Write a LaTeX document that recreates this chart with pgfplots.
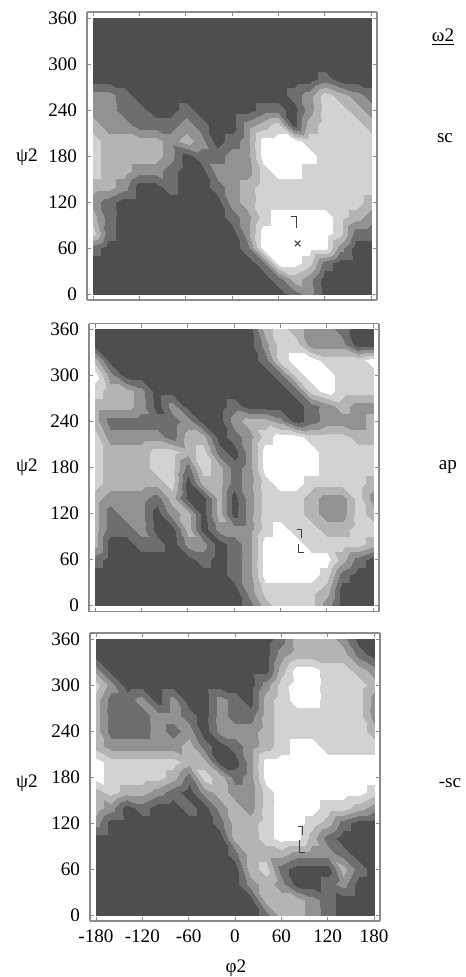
\documentclass[border=0pt]{standalone}
\usepackage{fontspec}
\setmainfont{Liberation Serif}
\usepackage{pgfplots}
\usepackage{pgfplotstable}
\pgfplotsset{compat=1.18}
\definecolor{g0}{HTML}{4E4E4E}
\definecolor{g1}{HTML}{6E6E6E}
\definecolor{g2}{HTML}{929292}
\definecolor{g3}{HTML}{B4B4B4}
\definecolor{g4}{HTML}{D2D2D2}
\definecolor{g5}{HTML}{FFFFFF}
\definecolor{frm}{HTML}{8A8A8A}

% grid values: rows psi = 360,340,...,0 ; columns phi = -180,-160,...,180
% level 0 = darkest ... 5 = white
\pgfplotstableread[row sep=\\,header=false]{
0\\0\\0\\0\\0\\0\\0\\0\\0\\0\\0\\0\\0\\0\\0\\0\\0\\0\\0\\
0\\0\\0\\0\\0\\0\\0\\0\\0\\0\\0\\0\\0\\0\\0\\0\\0\\0\\0\\
0\\0\\0\\0\\0\\0\\0\\0\\0\\0\\0\\0\\0\\0\\0\\0\\0\\0\\0\\
0\\0\\0\\0\\0\\0\\0\\0\\0\\0\\0\\0\\0\\0\\0\\0\\0\\0\\0\\
0\\0\\0\\0\\0\\0\\0\\0\\0\\0\\0\\0\\0\\0\\0\\1\\0\\0\\0\\
2\\2\\1\\0\\0\\0\\0\\0\\0\\0\\0\\0\\0\\1\\2\\4\\3\\2\\1\\
2\\2\\1\\1\\0\\0\\1\\0\\0\\0\\0\\1\\1\\0\\2\\4\\4\\3\\2\\
3\\2\\2\\1\\1\\1\\2\\1\\0\\0\\2\\3\\4\\0\\3\\4\\4\\4\\3\\
4\\3\\3\\3\\3\\2\\3\\2\\0\\1\\2\\5\\5\\5\\4\\4\\4\\4\\4\\
4\\3\\3\\3\\3\\2\\0\\1\\1\\2\\2\\5\\5\\5\\5\\4\\4\\4\\4\\
4\\3\\3\\2\\2\\1\\0\\0\\2\\2\\2\\4\\5\\5\\4\\4\\4\\4\\4\\
3\\3\\2\\0\\0\\1\\0\\0\\1\\2\\3\\4\\4\\4\\4\\4\\4\\4\\4\\
2\\1\\0\\0\\0\\0\\0\\0\\0\\2\\3\\4\\4\\4\\4\\4\\4\\4\\3\\
3\\1\\0\\0\\0\\0\\0\\0\\0\\1\\2\\4\\5\\5\\5\\5\\4\\3\\2\\
4\\1\\0\\0\\0\\0\\0\\0\\0\\0\\2\\5\\5\\5\\5\\5\\4\\1\\1\\
1\\0\\0\\0\\0\\0\\0\\0\\0\\0\\1\\5\\5\\5\\5\\5\\2\\0\\0\\
0\\0\\0\\0\\0\\0\\0\\0\\0\\0\\0\\1\\5\\5\\4\\1\\0\\0\\0\\
0\\0\\0\\0\\0\\0\\0\\0\\0\\0\\0\\0\\1\\3\\2\\0\\0\\0\\0\\
0\\0\\0\\0\\0\\0\\0\\0\\0\\0\\0\\0\\0\\1\\2\\0\\0\\0\\0\\
}\Pone

\pgfplotstableread[row sep=\\,header=false]{
0\\0\\0\\0\\0\\0\\0\\0\\0\\0\\0\\3\\4\\3\\2\\2\\1\\0\\0\\
0\\0\\0\\0\\0\\0\\0\\0\\0\\0\\0\\2\\4\\4\\2\\2\\2\\0\\0\\
3\\0\\0\\0\\0\\0\\0\\0\\0\\0\\0\\1\\4\\5\\5\\4\\4\\4\\5\\
5\\2\\0\\0\\0\\0\\0\\0\\0\\0\\0\\0\\1\\4\\5\\5\\4\\4\\4\\
4\\3\\3\\2\\0\\0\\0\\0\\0\\0\\0\\0\\0\\1\\4\\5\\4\\4\\4\\
3\\3\\3\\2\\0\\2\\0\\0\\0\\1\\0\\0\\0\\0\\1\\2\\3\\2\\2\\
3\\1\\1\\1\\1\\1\\2\\0\\0\\2\\3\\3\\2\\0\\1\\2\\2\\2\\3\\
4\\2\\2\\2\\2\\1\\3\\3\\0\\1\\2\\4\\5\\5\\4\\4\\4\\3\\3\\
4\\3\\3\\3\\4\\4\\3\\4\\1\\0\\2\\5\\5\\5\\5\\4\\4\\4\\4\\
4\\3\\3\\3\\4\\4\\1\\4\\3\\1\\2\\5\\5\\5\\5\\4\\4\\4\\4\\
4\\3\\3\\3\\3\\4\\0\\3\\3\\1\\2\\4\\5\\5\\4\\4\\4\\4\\3\\
3\\2\\2\\2\\1\\3\\0\\0\\3\\0\\2\\4\\4\\4\\3\\2\\2\\4\\2\\
3\\1\\2\\2\\0\\2\\3\\0\\3\\0\\2\\4\\4\\4\\3\\2\\2\\4\\3\\
3\\1\\1\\2\\0\\0\\3\\0\\2\\2\\2\\4\\5\\4\\4\\3\\3\\4\\4\\
3\\0\\0\\1\\1\\0\\2\\2\\0\\1\\2\\5\\5\\5\\4\\4\\4\\4\\3\\
1\\0\\0\\0\\0\\0\\0\\1\\0\\1\\2\\5\\5\\5\\5\\5\\3\\1\\0\\
0\\0\\0\\0\\0\\0\\0\\0\\0\\1\\2\\5\\5\\5\\5\\4\\1\\0\\0\\
0\\0\\0\\0\\0\\0\\0\\0\\0\\0\\2\\4\\4\\4\\4\\3\\0\\0\\0\\
0\\0\\0\\0\\0\\0\\0\\0\\0\\0\\1\\3\\4\\4\\4\\2\\0\\0\\0\\
}\Ptwo

\pgfplotstableread[row sep=\\,header=false]{
0\\0\\0\\0\\0\\0\\0\\0\\0\\0\\0\\0\\1\\3\\3\\3\\2\\0\\0\\
0\\0\\0\\0\\0\\0\\0\\0\\0\\0\\0\\0\\2\\3\\3\\3\\3\\1\\0\\
2\\0\\0\\0\\0\\0\\0\\0\\0\\0\\0\\0\\3\\5\\5\\4\\4\\3\\2\\
4\\2\\0\\0\\0\\0\\0\\0\\0\\0\\0\\2\\4\\5\\5\\4\\4\\4\\3\\
3\\1\\1\\2\\0\\2\\0\\0\\2\\1\\0\\3\\4\\5\\5\\4\\4\\4\\2\\
3\\1\\1\\1\\2\\2\\1\\0\\2\\1\\1\\3\\4\\4\\4\\4\\4\\4\\2\\
3\\1\\1\\1\\2\\1\\2\\0\\2\\2\\2\\3\\4\\4\\4\\4\\4\\4\\3\\
3\\2\\2\\2\\2\\2\\3\\1\\0\\1\\2\\3\\4\\5\\5\\4\\4\\4\\4\\
5\\4\\4\\4\\4\\4\\3\\3\\0\\0\\2\\5\\5\\5\\5\\5\\5\\5\\5\\
5\\4\\4\\4\\4\\3\\1\\4\\3\\1\\2\\5\\5\\5\\5\\5\\5\\5\\5\\
3\\4\\3\\3\\2\\1\\0\\2\\3\\2\\2\\4\\5\\5\\5\\5\\5\\5\\4\\
3\\2\\0\\1\\0\\0\\1\\0\\2\\3\\2\\4\\5\\5\\5\\4\\4\\3\\2\\
2\\0\\0\\0\\0\\0\\0\\0\\1\\3\\3\\4\\5\\5\\4\\3\\1\\0\\0\\
0\\0\\0\\0\\0\\0\\0\\0\\0\\3\\3\\4\\5\\5\\3\\1\\0\\0\\0\\
0\\0\\0\\0\\0\\0\\0\\0\\0\\1\\3\\3\\3\\2\\2\\2\\1\\0\\0\\
0\\0\\0\\0\\0\\0\\0\\0\\0\\0\\3\\4\\1\\0\\0\\0\\3\\1\\0\\
0\\0\\0\\0\\0\\0\\0\\0\\0\\0\\2\\3\\2\\0\\0\\1\\2\\0\\0\\
0\\0\\0\\0\\0\\0\\0\\0\\0\\0\\0\\3\\3\\3\\2\\1\\0\\0\\0\\
0\\0\\0\\0\\0\\0\\0\\0\\0\\0\\0\\1\\3\\3\\2\\1\\0\\0\\0\\
}\Pthree

\pgfplotsset{
  panel/.style={
    view={0}{90},
    scale only axis,
    width=145bp, height=144bp,
    xmin=-187.7, xmax=187.7, ymin=-7.7, ymax=367.7,
    xtick={-180,-120,...,180}, ytick={0,60,...,360}, ztick=\empty,
    tick align=inside, major tick length=2bp,
    tick style={draw=frm, line width=0.4bp},
    axis line style={draw=frm, line width=0.7bp},
    colormap={cm}{color=(g0) color=(g1) color=(g2) color=(g3) color=(g4) color=(g5)},
    colormap access=piecewise constant,
    point meta min=-0.5, point meta max=5.5,
    ticklabel style={font=\fontsize{9.6}{11}\selectfont},
    yticklabel style={xshift=-1.5bp},
    xticklabel style={yshift=-1bp},
    /pgf/number format/assume math mode=true,
    clip=false,
  },
  grid/.style={surf, shader=interp, mesh/cols=19},
  mk/.style={draw=black!75, line width=0.45bp, no marks},
}

\begin{document}
\begin{tikzpicture}
\path[use as bounding box] (0,0) rectangle (233bp,-488.5bp);
\begin{axis}[panel, at={(116bp,-78bp)}, anchor=center, xticklabels={}]
\addplot3[grid] table[x index=0, y index=0, z index=0, x expr={-180+20*mod(\coordindex,19)}, y expr={360-20*floor((\coordindex+0.5)/19)}] {\Pone};
\addplot3[mk] coordinates {(76,101,6) (83,101,6) (83,86,6)};
\addplot3[only marks, mark=x, mark size=2bp, draw=black!75, line width=0.5bp] coordinates {(85,66,6)};
\end{axis}
\begin{axis}[panel, at={(117bp,-233.75bp)}, anchor=center, xticklabels={}]
\addplot3[grid] table[x index=0, y index=0, z index=0, x expr={-180+20*mod(\coordindex,19)}, y expr={360-20*floor((\coordindex+0.5)/19)}] {\Ptwo};
\addplot3[mk] coordinates {(82,99,6) (87,99,6) (87,88,6)};
\addplot3[mk] coordinates {(84,80,6) (84,69,6) (90,69,6)};
\end{axis}
\begin{axis}[panel, at={(117.5bp,-388.5bp)}, anchor=center]
\addplot3[grid] table[x index=0, y index=0, z index=0, x expr={-180+20*mod(\coordindex,19)}, y expr={360-20*floor((\coordindex+0.5)/19)}] {\Pthree};
\addplot3[mk] coordinates {(81,115,6) (87,115,6) (87,105,6)};
\addplot3[mk] coordinates {(83,98,6) (83,82,6) (90,82,6)};
\end{axis}
\begin{scope}[every node/.style={font=\fontsize{9.6}{11}\selectfont, inner sep=0pt}]
\node at (13.5bp,-78.5bp) {ψ2};
\node at (13.5bp,-233.5bp) {ψ2};
\node at (13.5bp,-391.5bp) {ψ2};
\node at (221.5bp,-18.5bp) {\underline{ω2}};
\node at (222.5bp,-69bp) {sc};
\node at (224bp,-233.5bp) {ap};
\node at (225bp,-391.5bp) {-sc};
\node at (118bp,-484bp) {φ2};
\end{scope}
\end{tikzpicture}
\end{document}
